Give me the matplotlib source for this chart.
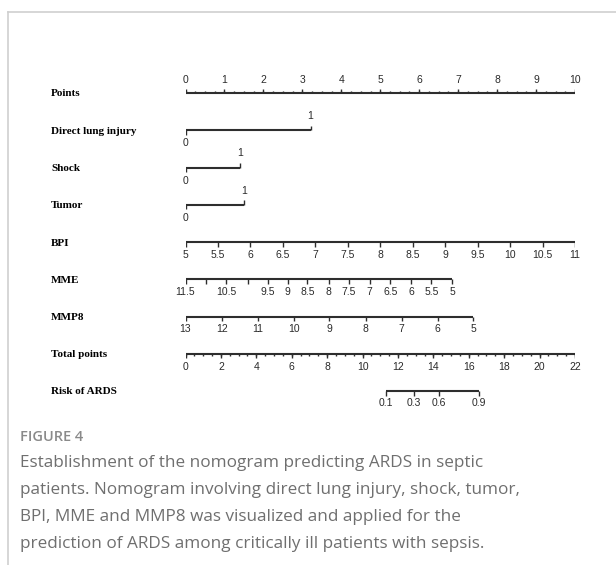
import matplotlib
matplotlib.use("Agg")
import matplotlib.pyplot as plt
from matplotlib.lines import Line2D

# ---- nomogram data -------------------------------------------------------
points_ticks = list(range(0, 11))

binary_names = ["Direct lung injury", "Shock", "Tumor"]
binary_points = [3.21, 1.40, 1.50]          # points awarded when the factor = 1

bpi_values = [5, 5.5, 6, 6.5, 7, 7.5, 8, 8.5, 9, 9.5, 10, 10.5, 11]
bpi_points = [0.0, 0.833, 1.667, 2.5, 3.333, 4.167, 5.0, 5.833, 6.667,
              7.5, 8.333, 9.167, 10.0]

mme_values = [11.5, 11, 10.5, 10, 9.5, 9, 8.5, 8, 7.5, 7, 6.5, 6, 5.5, 5]
mme_points = [0.0, 0.52, 1.05, 1.60, 2.12, 2.62, 3.13, 3.68, 4.20, 4.73,
              5.26, 5.79, 6.31, 6.85]
mme_labels = ["11.5", "", "10.5", "", "9.5", "9", "8.5", "8", "7.5", "7",
              "6.5", "6", "5.5", "5"]

mmp8_values = [13, 12, 11, 10, 9, 8, 7, 6, 5]
mmp8_points = [0.0, 0.93, 1.85, 2.78, 3.69, 4.63, 5.55, 6.47, 7.39]

total_max = 22
total_ticks = list(range(0, 23, 2))

risk_labels = ["0.1", "0.3", "0.6", "0.9"]
risk_total_points = [11.33, 12.91, 14.32, 16.56]

row_names = ["Points", "Direct lung injury", "Shock", "Tumor", "BPI", "MME",
             "MMP8", "Total points", "Risk of ARDS"]

caption_head = "FIGURE 4"
caption_lines = [
    "Establishment of the nomogram predicting ARDS in septic",
    "patients. Nomogram involving direct lung injury, shock, tumor,",
    "BPI, MME and MMP8 was visualized and applied for the",
    "prediction of ARDS among critically ill patients with sepsis.",
]

# ---- figure ---------------------------------------------------------------
W, H, DPI = 616, 565, 100
fig = plt.figure(figsize=(W / DPI, H / DPI), dpi=DPI)
fig.patch.set_facecolor("white")

# frame of the figure panel (top rule and left rule)
fig.add_artist(Line2D([8 / W, 1.0], [1 - 12 / H, 1 - 12 / H],
                      transform=fig.transFigure, color="#cfcfcf", lw=1.2))
fig.add_artist(Line2D([8 / W, 8 / W], [1 - 12 / H, 0.0],
                      transform=fig.transFigure, color="#cfcfcf", lw=1.2))

# axes: x is the points scale, y is the row index
x0_px, x1_px = 185.5, 575.0
row0_px, row_step = 93.0, 37.25
top_px = row0_px - 0.5 * row_step
bot_px = row0_px + 8.5 * row_step
ax = fig.add_axes([x0_px / W, 1 - bot_px / H, (x1_px - x0_px) / W,
                   (bot_px - top_px) / H])
ax.set_xlim(0, 10)
ax.set_ylim(8.5, -0.5)
ax.axis("off")

px = 1.0 / row_step          # one pixel in row units
LC = "#2e2e2e"
TC = "#2a2a2a"
LW = 1.5
num_font = dict(family="Liberation Sans", fontsize=7.5, color=TC)
name_font = dict(family="Liberation Serif", fontsize=8, fontweight="bold",
                 color="black")

ylab = ax.get_yaxis_transform()
name_x = (51 - x0_px) / (x1_px - x0_px)
for r, name in enumerate(row_names):
    ax.text(name_x, r + 1 * px, name, transform=ylab, ha="left", va="center",
            **name_font)


def hline(y, xa, xb):
    ax.plot([xa, xb], [y, y], color=LC, lw=LW, solid_capstyle="butt")


def tick(x, y, length, down=True):
    s = 1 if down else -1
    ax.plot([x, x], [y, y + s * length * px], color=LC, lw=1.0,
            solid_capstyle="butt")


# Points scale: ticks upward, labels above
r = 0
hline(r, 0, 10)
minor = [i * 0.25 for i in range(41)]
for m in minor:
    tick(m, r, 2.5, down=False)
for t in points_ticks:
    tick(t, r, 4.5, down=False)
    ax.text(t, r - 13 * px, str(t), ha="center", va="center", **num_font)

# binary predictors
for i, (name, p) in enumerate(zip(binary_names, binary_points)):
    r = 1 + i
    hline(r, 0, p)
    tick(0, r, 4.5, down=True)
    tick(p, r, 4.5, down=False)
    ax.text(0, r + 13 * px, "0", ha="center", va="center", **num_font)
    ax.text(p, r - 14 * px, "1", ha="center", va="center", **num_font)


def scale_row(r, pts, labels):
    hline(r, min(pts), max(pts))
    for p, lab in zip(pts, labels):
        tick(p, r, 4.5, down=True)
        if lab:
            ax.text(p, r + 12.5 * px, lab, ha="center", va="center",
                    **num_font)


scale_row(4, bpi_points, [f"{v:g}" for v in bpi_values])
scale_row(5, mme_points, mme_labels)
scale_row(6, mmp8_points, [f"{v:g}" for v in mmp8_values])

# Total points scale
r = 7
to_x = 10.0 / total_max
hline(r, 0, total_max * to_x)
for k in range(0, total_max * 2 + 1):
    tick(k * 0.5 * to_x, r, 2.5, down=True)
for t in total_ticks:
    tick(t * to_x, r, 4.5, down=True)
    ax.text(t * to_x, r + 13 * px, str(t), ha="center", va="center",
            **num_font)

# Risk scale
r = 8
risk_x = [t * to_x for t in risk_total_points]
scale_row(r, risk_x, risk_labels)

# ---- caption --------------------------------------------------------------
cap_font = ["Open Sans", "DejaVu Sans"]
fig.text(20 / W, 1 - 437 / H, caption_head, family=cap_font, fontsize=10.5,
         fontweight="semibold", color="#8a8a8a", ha="left", va="center")
for i, line in enumerate(caption_lines):
    fig.text(20 / W, 1 - (463 + 27 * i) / H, line, family=cap_font,
             fontsize=12.3, color="#6f6f6f", ha="left", va="center")

fig.savefig("out.png", dpi=DPI, facecolor="white")
